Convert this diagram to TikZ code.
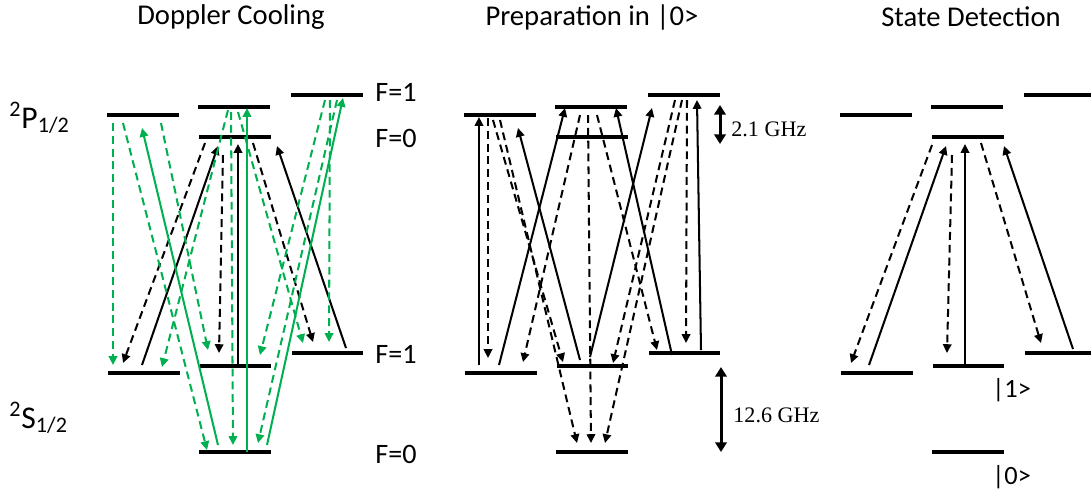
\documentclass[tikz,border=0pt]{standalone}
\usepackage{fontspec}
\setmainfont{Carlito}
\newfontfamily\ghzfont{Liberation Serif}
\usetikzlibrary{arrows.meta}
\definecolor{laser}{RGB}{0,176,80}

\tikzset{
  level/.style={line width=1.9pt},
  pump/.style={line width=1.15pt, -{Triangle[length=5pt,width=4.8pt]}},
  decay/.style={pump, dash pattern=on 4.5pt off 2.8pt},
  splitting/.style={line width=1.7pt, {Triangle[length=5.5pt,width=6.5pt]}-{Triangle[length=5.5pt,width=6.5pt]}},
  title/.style={font=\fontsize{16.3}{18}\selectfont},
  flabel/.style={anchor=west, font=\fontsize{16}{18}\selectfont, inner sep=0pt},
}

\begin{document}
\begin{tikzpicture}[x=0.2mm, y=-0.2mm]
\clip (0,0) rectangle (1091,495);

%% -- titles --
\node[title] (tdc)  at (231,17) {Doppler Cooling};
\node[title] (tprep) at (592,17) {Preparation in |0>};
\node[title] (tdet) at (971,17) {State Detection};

%% -- levels, same in all three panels --
\foreach \dx in {0,357,733}{
  \draw[level] (107+\dx,115) -- +(72,0);
  \draw[level] (198+\dx,107) -- +(72,0);
  \draw[level] (199+\dx,137) -- +(72,0);
  \draw[level] (291+\dx,95)  -- +(72,0);
  \draw[level] (108+\dx,373) -- +(72,0);
  \draw[level] (200+\dx,366) -- +(71,0);
  \draw[level] (292+\dx,353) -- +(71,0);
  \draw[level] (199+\dx,452) -- +(72,0);
}

%% -- Doppler cooling --
% cooling transition S F=1 -> P F=0 and its decays
\foreach \xa/\ya/\xb/\yb in {142/365/218/146, 238/366/238/144, 346/348/277/146}
  \draw[pump] (\xa,\ya) -- (\xb,\yb);
\foreach \xa/\ya/\xb/\yb in {205/143/123/363, 223/155/219/353, 253/143/313/342}
  \draw[decay] (\xa,\ya) -- (\xb,\yb);
% repump from S F=0 (green)
\foreach \xa/\ya/\xb/\yb in {218/445/142/128, 247/452/247/108, 267/445/343/98}
  \draw[pump, laser] (\xa,\ya) -- (\xb,\yb);
\foreach \xa/\ya/\xb/\yb in {113/123/113/365, 123/123/207/450, 161/123/208/350,
                             228/110/162/367, 231/112/233/445, 238/112/303/343,
                             325/100/260/355, 337/100/258/443, 330/100/329/342}
  \draw[decay, laser] (\xa,\ya) -- (\xb,\yb);

%% -- preparation in |0> --
\foreach \xa/\ya/\xb/\yb in {479/365/479/117, 499/365/565/108, 580/360/518/128,
                             590/357/652/108, 672/355/616/108, 701/350/697/100}
  \draw[pump] (\xa,\ya) -- (\xb,\yb);
\foreach \xa/\ya/\xb/\yb in {488/118/488/358, 493/120/563/362, 500/120/577/443,
                             580/115/523/362, 588/115/591/443, 597/115/657/350,
                             675/100/613/363, 682/100/605/443, 687/100/686/343}
  \draw[decay] (\xa,\ya) -- (\xb,\yb);

%% -- state detection --
\foreach \xa/\ya/\xb/\yb in {869/365/946/146, 965/366/965/144, 1073/349/1004/146}
  \draw[pump] (\xa,\ya) -- (\xb,\yb);
\foreach \xa/\ya/\xb/\yb in {932/145/851/363, 952/155/947/353, 981/143/1041/343}
  \draw[decay] (\xa,\ya) -- (\xb,\yb);

%% -- splittings --
\draw[splitting] (720,105) -- (720,144);
\node[anchor=west, inner sep=0pt, font=\ghzfont\fontsize{12.6}{14}\selectfont] (hfp) at (731,129) {2.1 GHz};
\draw[splitting] (721,367) -- (721,452);
\node[anchor=west, inner sep=0pt, font=\ghzfont\fontsize{12.6}{14}\selectfont] (hfs) at (733,415) {12.6 GHz};

%% -- level labels --
\node[flabel] (pf1) at (375,92)  {F=1};
\node[flabel] (pf0) at (375,138) {F=0};
\node[flabel] (sf1) at (375,354) {F=1};
\node[flabel] (sf0) at (375,454) {F=0};
\node[anchor=base west, inner sep=0pt, font=\fontsize{18}{20}\selectfont] (pterm) at (9,128)
  {\textsuperscript{2}P\textsubscript{1/2}};
\node[anchor=base west, inner sep=0pt, font=\fontsize{18}{20}\selectfont] (sterm) at (9,428)
  {\textsuperscript{2}S\textsubscript{1/2}};
\node[flabel, font=\fontsize{15}{17}\selectfont] (ket1) at (992,390) {|1>};
\node[flabel, font=\fontsize{15}{17}\selectfont] (ket0) at (992,477) {|0>};

\end{tikzpicture}
\end{document}
